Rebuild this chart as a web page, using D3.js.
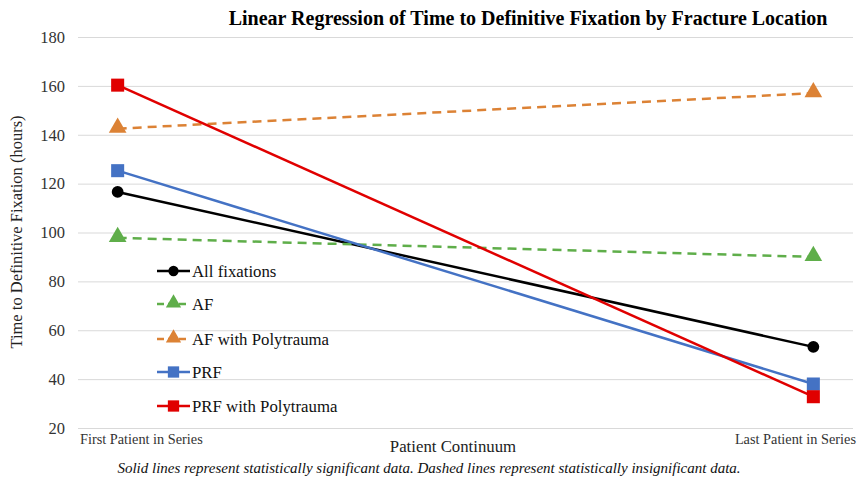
<!DOCTYPE html>
<html lang="en">
<head>
    <meta charset="UTF-8">
    <title>Linear Regression of Time to Definitive Fixation</title>
    <style>
        body { margin: 0; background: #fff; }
        svg text { font-family: "Liberation Serif", "Times New Roman", serif; }
        .grid line { stroke: #d9d9d9; stroke-width: 1; }
        .grid .domain { display: none; }
    </style>
</head>
<body>
    <script src="https://cdn.jsdelivr.net/npm/d3@7/dist/d3.min.js"></script>
    <script>
        var width = 859;
        var height = 479;

        // data
        var positions = ["First Patient in Series", "Last Patient in Series"];
        var yTicks = [20, 40, 60, 80, 100, 120, 140, 160, 180];
        var allFixations = [116.6, 53.2];
        var afValues = [97.8, 90.0];
        var afPolyValues = [142.5, 157.0];
        var prfValues = [125.3, 38.0];
        var prfPolyValues = [160.3, 32.8];

        var series = [
            { name: "All fixations", values: allFixations, color: "#000000", dashed: false, marker: "circle" },
            { name: "AF", values: afValues, color: "#5fae4a", dashed: true, marker: "triangle" },
            { name: "AF with Polytrauma", values: afPolyValues, color: "#dc8235", dashed: true, marker: "triangle" },
            { name: "PRF", values: prfValues, color: "#4472c4", dashed: false, marker: "square" },
            { name: "PRF with Polytrauma", values: prfPolyValues, color: "#e00000", dashed: false, marker: "square" }
        ];

        var svg = d3.select("body")
                    .append("svg")
                    .attr("width", width)
                    .attr("height", height);

        var plotLeft = 78, plotRight = 853;
        var x = d3.scalePoint()
                  .domain(positions)
                  .range([plotLeft, plotRight])
                  .padding(0.057);
        var y = d3.scaleLinear()
                  .domain([20, 180])
                  .range([428, 37]);

        // gridlines
        svg.append("g")
           .attr("class", "grid")
           .attr("transform", "translate(" + plotLeft + ",0)")
           .call(d3.axisLeft(y).tickValues(yTicks).tickSize(-(plotRight - plotLeft)).tickFormat(""));

        // y tick labels
        svg.append("g")
           .selectAll("text")
           .data(yTicks)
           .enter()
           .append("text")
           .attr("x", 65)
           .attr("y", function(d) { return y(d); })
           .attr("dy", "0.35em")
           .attr("text-anchor", "end")
           .attr("font-size", 16.5)
           .attr("fill", "#333")
           .text(function(d) { return d; });

        // x labels
        svg.append("text")
           .attr("x", 80).attr("y", 444)
           .attr("font-size", 14.3).attr("fill", "#333")
           .text(positions[0]);
        svg.append("text")
           .attr("x", 856).attr("y", 444)
           .attr("text-anchor", "end")
           .attr("font-size", 14.3).attr("fill", "#333")
           .text(positions[1]);

        // titles
        svg.append("text")
           .attr("x", 528).attr("y", 25)
           .attr("text-anchor", "middle")
           .attr("font-size", 20).attr("font-weight", "bold")
           .text("Linear Regression of Time to Definitive Fixation by Fracture Location");
        svg.append("text")
           .attr("transform", "translate(22,232) rotate(-90)")
           .attr("text-anchor", "middle")
           .attr("font-size", 16.5).attr("fill", "#222")
           .text("Time to Definitive Fixation (hours)");
        svg.append("text")
           .attr("x", 453).attr("y", 452)
           .attr("text-anchor", "middle")
           .attr("font-size", 16.8).attr("fill", "#222")
           .text("Patient Continuum");
        svg.append("text")
           .attr("x", 429).attr("y", 473)
           .attr("text-anchor", "middle")
           .attr("font-size", 15).attr("font-style", "italic").attr("fill", "#111")
           .text("Solid lines represent statistically significant data. Dashed lines represent statistically insignificant data.");

        var line = d3.line()
            .x(function(d, i) { return x(positions[i]); })
            .y(function(d) { return y(d); });

        function drawMarker(g, type, cx, cy, color, scale) {
            var sym;
            if (type === "circle") sym = d3.symbol().type(d3.symbolCircle).size(110 * scale);
            else if (type === "triangle") sym = d3.symbol().type(d3.symbolTriangle).size(135 * scale);
            else sym = d3.symbol().type(d3.symbolSquare).size(170 * scale);
            g.append("path")
             .attr("d", sym())
             .attr("transform", "translate(" + cx + "," + (cy + (type === "triangle" ? -1 : 0)) + ")")
             .attr("fill", color);
        }

        var lines = svg.append("g");
        series.forEach(function(s) {
            var g = lines.append("g");
            g.append("path")
             .datum(s.values)
             .attr("d", line)
             .attr("fill", "none")
             .attr("stroke", s.color)
             .attr("stroke-width", 2.5)
             .attr("stroke-dasharray", s.dashed ? "9,6" : null);
            s.values.forEach(function(v, i) {
                drawMarker(g, s.marker, x(positions[i]), y(v), s.color, 1);
            });
        });

        // legend
        var legend = svg.append("g");
        var legendY = [271, 304, 339, 372, 406];
        series.forEach(function(s, i) {
            var row = legend.append("g").attr("transform", "translate(157," + legendY[i] + ")");
            row.append("line")
               .attr("x1", 0).attr("x2", 33)
               .attr("stroke", s.color)
               .attr("stroke-width", 2.5)
               .attr("stroke-dasharray", s.dashed ? "7,4" : null);
            drawMarker(row, s.marker, 16.5, 0, s.color, 0.75);
            row.append("text")
               .attr("x", 35).attr("dy", "0.35em")
               .attr("font-size", 16.8).attr("fill", "#111")
               .text(s.name);
        });
    </script>
</body>
</html>
